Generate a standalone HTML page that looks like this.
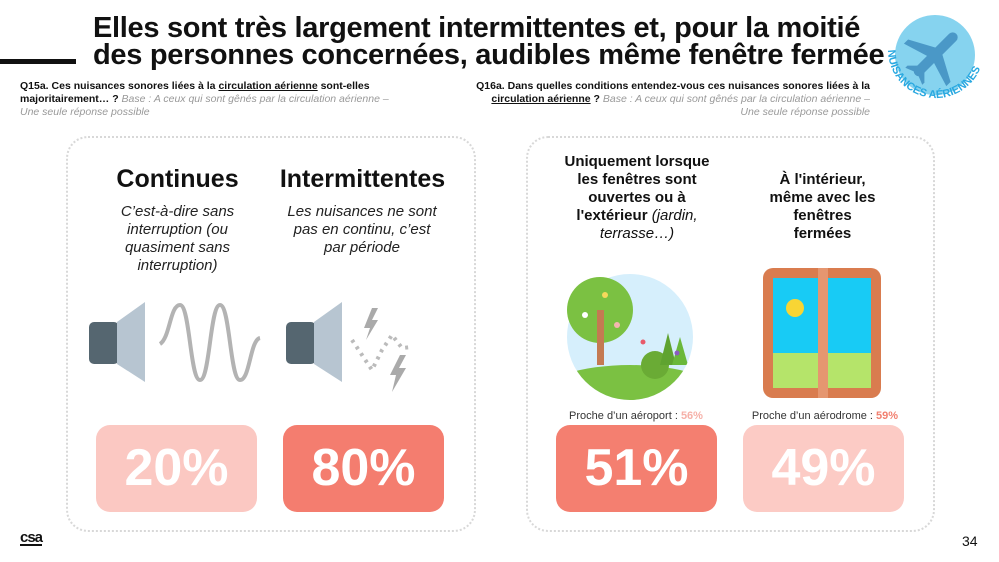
<!DOCTYPE html><html><head><meta charset="utf-8"><style>
body{margin:0;width:999px;height:562px;background:#fff;position:relative;overflow:hidden;font-family:"Liberation Sans","DejaVu Sans",sans-serif;color:#111}
.a{position:absolute}
.t{font-weight:bold;font-size:29px;line-height:27px;left:93px;top:15px;width:800px;letter-spacing:-0.3px}
.q{font-size:10.5px;line-height:13px}
.q i{color:#999}
.box{position:absolute;border:2px dotted #d8d8d8;border-radius:22px}
.h{font-weight:bold;font-size:25px;text-align:center}
.s{font-style:italic;font-size:15px;line-height:18px;text-align:center;color:#222}
.p{position:absolute;border-radius:14px;color:#fff;font-weight:bold;font-size:52px;text-align:center;line-height:87px;height:87px;width:161px}
.rh{font-weight:bold;font-size:15px;line-height:18px;text-align:center}
.sm{font-size:11px;text-align:center;color:#333}
</style></head><body>
<div class="a t">Elles sont très largement intermittentes et, pour la moitié<br>des personnes concernées, audibles même fenêtre fermée</div>
<div class="a" style="left:0;top:59px;width:76px;height:5px;background:#111"></div>
<svg class="a" style="left:880px;top:5px" width="115" height="125">
<circle cx="55" cy="50" r="40" fill="#86d3ef"/>
<g transform="translate(55,50) rotate(45)" fill="#4a98c7"><rect x="-5" y="-30" width="10" height="58" rx="5"/><polygon points="-4,-6 -30,8 -30,14 -4,6"/><polygon points="4,-6 30,8 30,14 4,6"/><polygon points="-3,18 -12,27 -12,30 3,24"/><polygon points="3,18 12,27 12,30 -3,24"/></g>
<path id="arc" d="M8,45 A48,48 0 0,0 104,45" fill="none"/>
<text font-size="11" font-weight="bold" fill="#29a8e0"><textPath href="#arc">NUISANCES AÉRIENNES</textPath></text>
</svg>
<div class="a q" style="left:20px;top:80px;width:378px"><b>Q15a. Ces nuisances sonores liées à la <u>circulation aérienne</u> sont-elles majoritairement… ?</b> <i>Base : A ceux qui sont gênés par la circulation aérienne – Une seule réponse possible</i></div>
<div class="a q" style="left:470px;top:80px;width:400px;text-align:right"><b>Q16a. Dans quelles conditions entendez-vous ces nuisances sonores liées à la <u>circulation aérienne</u> ?</b> <i>Base : A ceux qui sont gênés par la circulation aérienne – Une seule réponse possible</i></div>
<div class="box" style="left:66px;top:136px;width:406px;height:392px"></div>
<div class="box" style="left:526px;top:136px;width:405px;height:392px"></div>
<div class="a h" style="left:95px;top:165px;width:165px">Continues</div>
<div class="a h" style="left:265px;top:165px;width:195px">Intermittentes</div>
<div class="a s" style="left:100px;top:203px;width:155px">C’est-à-dire sans interruption (ou quasiment sans interruption)</div>
<div class="a s" style="left:283px;top:203px;width:158px">Les nuisances ne sont pas en continu, c’est par période</div>
<svg class="a" style="left:85px;top:300px" width="380" height="100">
<g><rect x="4" y="22" width="30" height="42" rx="5" fill="#556670"/><polygon points="32,22 60,2 60,82 32,64" fill="#b7c5d1"/></g>
<path d="M75,44 C85,38 85,5 95,5 C105,5 105,80 115,80 C125,80 125,5 135,5 C145,5 145,80 155,80 C165,80 165,40 175,38" fill="none" stroke="#b3b3b3" stroke-width="4"/>
<g transform="translate(197,0)"><rect x="4" y="22" width="30" height="42" rx="5" fill="#556670"/><polygon points="32,22 60,2 60,82 32,64" fill="#b7c5d1"/>
<path d="M70,40 L80,55 L90,70 L100,50 L110,35 L120,48 L130,47" fill="none" stroke="#bbb" stroke-width="4" stroke-dasharray="3,5"/>
<polygon points="90,8 82,28 88,28 84,40 96,20 90,20 96,8" fill="#aaa"/><polygon points="118,55 108,75 114,75 110,92 124,68 117,68 124,55" fill="#aaa"/></g>
</svg>
<div class="p" style="left:96px;top:425px;background:#fbc8c2">20%</div>
<div class="p" style="left:283px;top:425px;background:#f47d6f">80%</div>
<div class="p" style="left:556px;top:425px;background:#f47f70">51%</div>
<div class="p" style="left:743px;top:425px;background:#fccbc5">49%</div>
<div class="a rh" style="left:558px;top:153px;width:158px">Uniquement lorsque les fenêtres sont ouvertes ou à l'extérieur <i style="font-weight:normal">(jardin, terrasse…)</i></div>
<div class="a rh" style="left:765px;top:171px;width:115px">À l'intérieur, même avec les fenêtres fermées</div>
<svg class="a" style="left:560px;top:265px" width="140" height="140">
<clipPath id="c"><circle cx="70" cy="72" r="63"/></clipPath>
<circle cx="70" cy="72" r="63" fill="#d6effc"/>
<g clip-path="url(#c)"><ellipse cx="70" cy="130" rx="90" ry="30" fill="#7bc142"/><circle cx="95" cy="100" r="14" fill="#6aab35"/><polygon points="100,100 108,68 116,100" fill="#5fa330"/><polygon points="112,100 120,72 128,100" fill="#6ab83a"/></g>
<circle cx="40" cy="45" r="33" fill="#7bc142"/><rect x="37" y="45" width="7" height="55" fill="#c47a52"/>
<circle cx="45" cy="30" r="3" fill="#f6d95b"/><circle cx="25" cy="50" r="3" fill="#fff"/><circle cx="57" cy="60" r="3" fill="#f5b6b0"/><circle cx="83" cy="77" r="2.5" fill="#e85a6a"/><circle cx="117" cy="88" r="2.5" fill="#8b5bc0"/>
</svg>
<svg class="a" style="left:763px;top:268px" width="120" height="132">
<rect x="0" y="0" width="118" height="130" rx="10" fill="#d97c4f"/><rect x="10" y="10" width="98" height="110" fill="#18cbf5"/>
<rect x="10" y="85" width="98" height="35" fill="#b5e46a"/><rect x="55" y="0" width="10" height="130" fill="#e59670"/>
<circle cx="32" cy="40" r="9" fill="#f8d534"/>
</svg>
<div class="a sm" style="left:556px;top:410px;width:160px">Proche d’un aéroport : <b style="color:#f6b0a8">56%</b></div>
<div class="a sm" style="left:735px;top:410px;width:180px">Proche d’un aérodrome : <b style="color:#f28070">59%</b></div>
<div class="a" style="left:20px;top:531px;font-weight:bold;font-size:15px;letter-spacing:-1px;border-bottom:2px solid #111;line-height:13px">csa</div>
<div class="a" style="left:962px;top:533px;font-size:14px">34</div>
</body></html>
